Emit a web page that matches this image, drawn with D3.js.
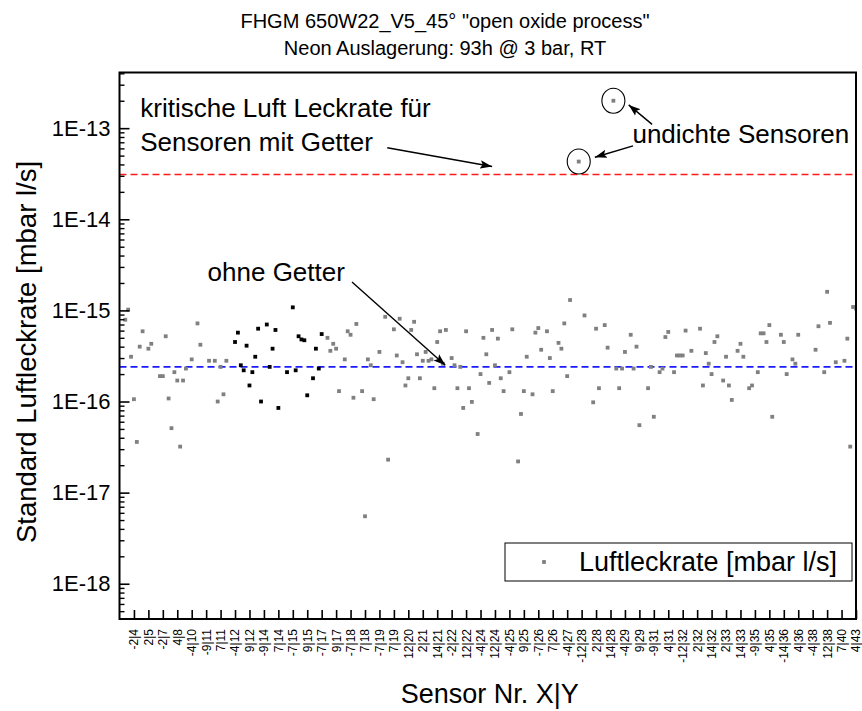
<!DOCTYPE html>
<html><head><meta charset="utf-8">
<script src="https://cdn.jsdelivr.net/npm/d3@7"></script>
<style>
body{margin:0;background:#fff;}
svg text{font-family:"Liberation Sans",Arial,sans-serif;fill:#000;}
</style>
</head><body>
<svg id="chart" width="862" height="711"></svg>
<script>
// ---------------- DATA ----------------
const titleLines = ['FHGM 650W22_V5_45° "open oxide process"', 'Neon Auslagerung: 93h @ 3 bar, RT'];
const xTitle = "Sensor Nr. X|Y";
const yTitle = "Standard Luftleckrate [mbar l/s]";
const legendLabel = "Luftleckrate [mbar l/s]";

// every 5th sensor is labelled (sensor index 5, 10, ... 255)
const sensorLabels = ["-2|4","2|5","-2|7","4|8","-4|10","-9|11","7|11","-4|12","9|12","-9|14",
  "7|14","-7|15","9|15","-7|17","9|17","-7|18","7|18","-7|19","7|19","12|20",
  "2|21","14|21","-2|22","12|22","-4|24","12|24","-4|25","9|25","-7|26","7|26",
  "-4|27","-12|28","2|28","14|28","-4|29","9|29","-9|31","4|31","-12|32","2|32",
  "14|32","2|33","14|33","-9|35","4|35","-14|36","4|36","-4|38","12|38","7|40","4|43"];

const yTickValues = [1e-18, 1e-17, 1e-16, 1e-15, 1e-14, 1e-13];

// [sensor index, leak rate mbar l/s] - grey series
const greyPoints = [
 [2,7.9e-16],[3,1.02e-15],[4,3.1e-16],[5,1.06e-16],[6,3.6e-17],[7,4.0e-16],[8,5.9e-16],[10,3.8e-16],[11,4.3e-16],
 [14,1.9e-16],[15,1.9e-16],[16,5.2e-16],[17,1.08e-16],[18,5.1e-17],[19,2.1e-16],[20,1.7e-16],[21,3.2e-17],[22,1.7e-16],
 [23,2.3e-16],[25,2.9e-16],[27,7.2e-16],[28,4.2e-16],[31,2.8e-16],[33,2.8e-16],[34,1.0e-16],[35,2.4e-16],[36,1.2e-16],[37,2.8e-16],
 [72,5.0e-16],[73,3.6e-16],[74,4.3e-16],[75,3.8e-16],[76,1.3e-16],[78,2.9e-16],[79,5.9e-16],[80,5.4e-16],[81,1.1e-16],
 [82,7.1e-16],[84,1.3e-16],[85,5.5e-18],[86,2.9e-16],[87,2.5e-16],[88,1.06e-16],[90,3.5e-16],[92,8.5e-16],[93,2.3e-17],
 [95,6.2e-16],[96,3.2e-16],[97,8.1e-16],[98,2.7e-16],[99,1.5e-16],[100,1.8e-16],[101,6.1e-16],[102,7.5e-16],[103,3.3e-16],
 [104,1.8e-16],[105,2.8e-16],[106,3.5e-16],[107,2.8e-16],[108,2.9e-16],[109,1.4e-16],[110,4.5e-16],[111,5.9e-16],[112,2.6e-16],
 [113,6.1e-16],[115,3.0e-16],[116,2.5e-16],[117,1.4e-16],[118,2.4e-16],[119,8.5e-17],[120,5.9e-16],[121,1.4e-16],[122,9.9e-17],
 [124,4.4e-17],[125,2.0e-16],[126,5.0e-16],[127,3.3e-16],[128,1.6e-16],[129,6.1e-16],[130,2.5e-16],[131,4.9e-16],[132,1.8e-16],
 [133,1.3e-16],[135,2.1e-16],[136,6.2e-16],[138,2.2e-17],[139,7.3e-17],[140,1.3e-16],[141,3.1e-16],[143,1.2e-16],[144,5.7e-16],
 [145,6.4e-16],[146,3.7e-16],[148,5.9e-16],[149,3.0e-16],[150,1.3e-16],[152,4.4e-16],[153,3.8e-16],[154,7.2e-16],[155,1.9e-16],
 [156,1.3e-15],[159,4.3e-14],[161,8.8e-16],[164,9.8e-17],[165,6.3e-16],[166,1.4e-16],[168,6.9e-16],[169,3.9e-16],[171,2.0e-13],
 [172,2.3e-16],[173,1.4e-16],[174,2.3e-16],[175,3.5e-16],[177,5.4e-16],[178,2.3e-16],[179,4.0e-16],[180,5.5e-17],[183,1.4e-16],
 [184,2.4e-16],[185,6.8e-17],[187,2.1e-16],[188,2.3e-16],[189,5.1e-16],[190,5.8e-16],[192,2.1e-16],[193,3.2e-16],[194,3.2e-16],
 [195,3.2e-16],[196,6.0e-16],[198,3.6e-16],[201,6.3e-16],[202,1.5e-16],[203,3.4e-16],[204,2.6e-16],[205,2.0e-16],[206,4.5e-16],
 [207,5.2e-16],[209,1.7e-16],[210,3.1e-16],[211,1.5e-16],[212,1.04e-16],[214,3.6e-16],[215,4.3e-16],[216,3.1e-16],[218,1.4e-16],
 [219,1.5e-16],[221,2.1e-16],[222,5.6e-16],[223,5.6e-16],[224,4.5e-16],[225,6.9e-16],[226,6.8e-17],[229,5.4e-16],[230,4.5e-16],
 [231,2.0e-16],[233,2.9e-16],[234,2.6e-16],[235,5.4e-16],[241,3.7e-16],[242,6.7e-16],[244,2.1e-16],[245,1.6e-15],[246,7.3e-16],
 [248,2.7e-16],[251,2.8e-16],[252,4.9e-16],[253,3.2e-17],[254,1.09e-15],[255,1.05e-15]
];
// black series
const blackPoints = [
 [40,4.5e-16],[41,5.7e-16],[42,2.5e-16],[43,2.2e-16],[44,4.1e-16],[45,1.5e-16],[46,2.1e-16],[47,3.1e-16],[48,6.3e-16],
 [49,1.0e-16],[51,7.0e-16],[52,2.4e-16],[53,3.8e-16],[54,6.1e-16],[55,8.5e-17],[58,2.1e-16],[60,1.08e-15],[61,2.2e-16],
 [62,5.2e-16],[63,4.8e-16],[64,4.7e-16],[65,1.17e-16],[67,1.8e-16],[68,3.8e-16],[69,2.3e-16],[70,5.5e-16]
];

const criticalRate = 3.1e-14;      // red dashed
const withoutGetterRate = 2.4e-16; // blue dashed

// annotations in data coordinates [index, rate]
const annoTexts = [
  {t:"kritische Luft Leckrate für", at:[7.2, 1.31e-13]},
  {t:"Sensoren mit Getter", at:[7.2, 5.6e-14]},
  {t:"undichte Sensoren", at:[177.6, 6.8e-14]},
  {t:"ohne Getter", at:[30.5, 2.1e-15]}
];
const arrows = [
  {from:[92.7, 6.1e-14], to:[129, 3.8e-14]},
  {from:[184.4, 1.1e-13], to:[176.3, 1.8e-13]},
  {from:[177.8, 6.4e-14], to:[164.6, 4.8e-14]},
  {from:[80.5, 2.05e-15], to:[112.8, 2.5e-16]}
];
const circled = [[171, 2.0e-13],[159, 4.3e-14]];

// ---------------- CHART ----------------
const W = 862, H = 711;
const m = {left:119.5, right:6, top:72.5, bottom:92};
const svg = d3.select("#chart");
svg.append("rect").attr("width",W).attr("height",H).attr("fill","#fff");

const x = d3.scaleLinear().domain([0,255]).range([m.left, W-m.right]);
const y = d3.scaleLog().domain([Math.pow(10,-18.387), Math.pow(10,-12.389)]).range([H-m.bottom, m.top]);

const defs = svg.append("defs");
defs.append("clipPath").attr("id","plotclip")
  .append("rect").attr("x",m.left).attr("y",m.top).attr("width",W-m.right-m.left).attr("height",H-m.bottom-m.top);
defs.append("marker").attr("id","ah").attr("viewBox","0 0 12 10").attr("refX",12).attr("refY",5)
  .attr("markerWidth",12).attr("markerHeight",10).attr("markerUnits","userSpaceOnUse").attr("orient","auto")
  .append("path").attr("d","M0,0.8 L12,5 L0,9.2 L2.5,5 Z").attr("fill","#000");

// titles
svg.selectAll("text.title").data(titleLines).enter().append("text").attr("class","title")
  .attr("x",445).attr("y",(d,i)=>28+i*27).attr("text-anchor","middle").style("font-size","20px").text(d=>d);

const plot = svg.append("g").attr("clip-path","url(#plotclip)");

// reference lines
plot.append("line").attr("x1",x(0)).attr("x2",x(255)).attr("y1",y(criticalRate)).attr("y2",y(criticalRate))
  .attr("stroke","#ff1a1a").attr("stroke-width",1.6).attr("stroke-dasharray","7,4");
plot.append("line").attr("x1",x(0)).attr("x2",x(255)).attr("y1",y(withoutGetterRate)).attr("y2",y(withoutGetterRate))
  .attr("stroke","#1a1aff").attr("stroke-width",1.6).attr("stroke-dasharray","7,4");

// points
const s = 3.8;
plot.selectAll("rect.g").data(greyPoints).enter().append("rect").attr("class","g")
  .attr("x",d=>x(d[0])-s/2).attr("y",d=>y(d[1])-s/2).attr("width",s).attr("height",s).attr("fill","#808080");
plot.selectAll("rect.b").data(blackPoints).enter().append("rect").attr("class","b")
  .attr("x",d=>x(d[0])-s/2).attr("y",d=>y(d[1])-s/2).attr("width",s).attr("height",s).attr("fill","#000");

// axes
const majorFmt = d => "1E" + Math.round(Math.log10(d));
const gy = svg.append("g").attr("transform",`translate(${m.left},0)`)
  .call(d3.axisLeft(y).tickValues(yTickValues).tickFormat(majorFmt).tickSizeInner(-10).tickSizeOuter(0).tickPadding(9));
gy.select(".domain").remove();
gy.selectAll("text").style("font-size","22px").style("font-family","'Liberation Sans',Arial,sans-serif");
gy.selectAll("line").attr("stroke-width",1.6);

const minor = [];
for (let e=-19; e<=-13; e++) for (let k=2;k<=9;k++){ const v=k*Math.pow(10,e); if (v>=y.domain()[0] && v<=y.domain()[1]) minor.push(v); }
const gym = svg.append("g").attr("transform",`translate(${m.left},0)`)
  .call(d3.axisLeft(y).tickValues(minor).tickFormat("").tickSizeInner(-5).tickSizeOuter(0));
gym.select(".domain").remove();
gym.selectAll("line").attr("stroke-width",1.4);

const gx = svg.append("g").attr("transform",`translate(0,${H-m.bottom})`)
  .call(d3.axisBottom(x).tickValues(sensorLabels.map((d,i)=>5+5*i)).tickFormat((d,i)=>sensorLabels[i]).tickSizeInner(-9).tickSizeOuter(0));
gx.select(".domain").remove();
gx.selectAll("line").attr("stroke-width",1.6);
gx.selectAll("text").attr("transform","rotate(-90)").attr("x",-10).attr("y",0).attr("dy","0.33em")
  .style("text-anchor","end").style("font-size","12px").style("font-family","'Liberation Sans',Arial,sans-serif");

// frame
svg.append("rect").attr("x",m.left).attr("y",m.top).attr("width",W-m.right-m.left).attr("height",H-m.bottom-m.top)
  .attr("fill","none").attr("stroke","#000").attr("stroke-width",2);

// axis titles
svg.append("text").attr("x",(m.left+W-m.right)/2+2).attr("y",703).attr("text-anchor","middle").style("font-size","27px").text(xTitle);
svg.append("text").attr("transform",`translate(36,352) rotate(-90)`).attr("text-anchor","middle").style("font-size","27.5px").text(yTitle);

// annotations
svg.selectAll("text.anno").data(annoTexts).enter().append("text").attr("class","anno")
  .attr("x",d=>x(d.at[0])).attr("y",d=>y(d.at[1])).style("font-size","26px").text(d=>d.t);
svg.selectAll("line.arrow").data(arrows).enter().append("line").attr("class","arrow")
  .attr("x1",d=>x(d.from[0])).attr("y1",d=>y(d.from[1])).attr("x2",d=>x(d.to[0])).attr("y2",d=>y(d.to[1]))
  .attr("stroke","#000").attr("stroke-width",1.4).attr("marker-end","url(#ah)");
svg.selectAll("ellipse.circ").data(circled).enter().append("ellipse").attr("class","circ")
  .attr("cx",d=>x(d[0])).attr("cy",d=>y(d[1])).attr("rx",11.5).attr("ry",12.5)
  .attr("fill","none").attr("stroke","#000").attr("stroke-width",1.1);

// legend
const lg = svg.append("g");
lg.append("rect").attr("x",505).attr("y",543).attr("width",347).attr("height",38).attr("fill","#fff").attr("stroke","#000").attr("stroke-width",1);
lg.append("rect").attr("x",544-s/2).attr("y",562-s/2).attr("width",s).attr("height",s).attr("fill","#808080");
lg.append("text").attr("x",579).attr("y",571).style("font-size","27px").text(legendLabel);
</script>
</body></html>
